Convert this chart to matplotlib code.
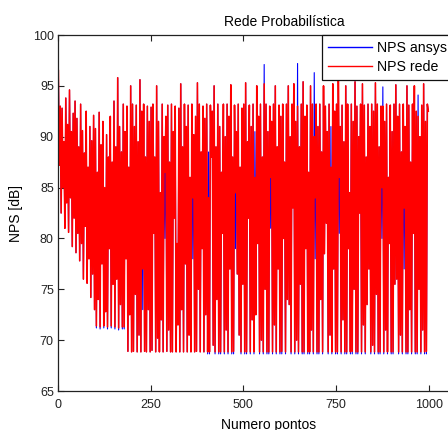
import numpy as np
import matplotlib
matplotlib.use('Agg')
import matplotlib.pyplot as plt

plt.rcParams['font.family'] = ['Liberation Sans', 'DejaVu Sans']

title = 'Rede Probabilística'
x_label = 'Numero pontos'
y_label = 'NPS [dB]'
series_names = ['NPS ansys', 'NPS rede']
x_ticks = [0, 250, 500, 750, 1000]
y_ticks = [65, 70, 75, 80, 85, 90, 95, 100]
sample_step = 2.5

nps_rede = [
    96.5, 87.2, 93.0, 82.5, 92.8, 85.0, 89.5, 81.0, 93.8, 83.5, 91.2, 80.6, 94.6, 84.0, 90.5, 79.2, 92.3, 82.0, 93.5, 78.6,
    91.8, 80.5, 89.0, 77.8, 93.2, 79.5, 90.6, 76.0, 88.4, 81.2, 92.5, 75.6, 87.0, 78.0, 91.0, 74.2, 89.6, 76.5, 92.1, 73.0,
    90.8, 71.4, 86.5, 74.0, 92.4, 71.3, 89.2, 77.5, 91.5, 71.4, 85.0, 72.8, 90.2, 71.3, 88.0, 79.0, 92.0, 71.4, 87.5, 75.5,
    93.5, 71.3, 89.0, 76.0, 95.8, 71.2, 91.0, 73.5, 88.5, 71.3, 93.2, 71.3, 90.5, 78.0, 93.0, 68.9, 87.0, 72.5, 95.0, 68.85,
    93.2, 68.9, 91.0, 74.5, 93.1, 68.85, 89.5, 70.5, 95.6, 68.85, 92.5, 77.0, 93.2, 68.9, 88.0, 68.85, 93.0, 73.0, 91.5, 68.85,
    92.9, 69.0, 93.2, 80.5, 88.0, 68.85, 95.0, 70.2, 91.5, 68.85, 84.5, 72.0, 93.2, 68.85, 90.0, 86.5, 92.0, 68.9, 93.1, 71.0,
    87.5, 68.85, 93.2, 68.85, 90.5, 82.0, 93.0, 68.85, 79.5, 71.5, 92.8, 68.85, 95.2, 73.0, 89.0, 68.85, 93.2, 77.5, 91.0, 68.85,
    93.1, 70.5, 86.0, 68.85, 93.2, 84.0, 90.2, 68.85, 92.0, 68.9, 95.3, 75.0, 93.2, 68.85, 88.5, 79.0, 93.0, 68.85, 91.8, 72.5,
    93.2, 68.85, 84.0, 68.85, 93.1, 88.0, 92.5, 69.5, 95.0, 68.85, 89.0, 74.0, 93.2, 68.85, 91.0, 68.85, 86.5, 80.5, 93.2, 68.85,
    90.0, 71.0, 93.2, 68.85, 92.0, 77.0, 95.1, 68.85, 88.0, 68.9, 93.1, 84.5, 90.5, 76.5, 93.2, 70.5, 87.0, 68.85, 92.8, 75.5,
    93.2, 68.85, 95.3, 68.85, 89.5, 82.0, 93.1, 68.85, 91.0, 72.0, 93.2, 68.85, 86.0, 72.5, 95.0, 79.5, 92.0, 68.85, 93.2, 70.0,
    88.0, 68.85, 95.2, 75.0, 93.2, 68.85, 90.5, 68.85, 93.0, 86.0, 91.5, 68.85, 93.2, 71.5, 95.0, 68.85, 89.0, 77.0, 93.1, 68.85,
    92.0, 68.9, 93.2, 80.0, 87.5, 68.85, 93.2, 74.0, 95.0, 73.5, 90.0, 68.85, 93.2, 83.0, 95.2, 68.85, 91.5, 70.0, 93.0, 68.85,
    89.0, 75.5, 93.2, 68.85, 95.4, 68.85, 92.0, 79.0, 93.1, 68.85, 86.5, 68.85, 95.0, 71.0, 93.2, 68.85, 90.0, 84.0, 93.2, 68.85,
    91.0, 68.85, 93.2, 74.0, 88.5, 68.85, 95.0, 78.5, 93.0, 81.5, 90.5, 68.85, 93.2, 70.5, 87.0, 68.85, 95.2, 77.0, 92.5, 68.85,
    93.2, 68.85, 95.5, 86.0, 91.0, 68.85, 93.1, 72.0, 89.5, 68.85, 95.0, 68.85, 93.2, 79.0, 84.5, 68.85, 93.2, 68.9, 91.5, 75.0,
    95.4, 68.85, 93.0, 68.85, 90.0, 82.5, 93.2, 68.85, 95.2, 71.5, 93.1, 68.85, 88.0, 73.5, 93.2, 77.0, 91.0, 68.85, 93.2, 69.5,
    92.5, 68.85, 95.3, 74.5, 93.2, 68.85, 89.0, 68.85, 93.0, 85.0, 93.0, 68.85, 91.5, 71.0, 93.2, 68.85, 86.0, 79.5, 93.1, 68.85,
    90.5, 68.85, 93.2, 75.5, 95.1, 76.0, 92.0, 68.85, 93.2, 70.5, 88.5, 68.85, 93.2, 83.0, 91.0, 68.85, 95.0, 68.85, 93.1, 73.0,
    87.5, 68.85, 93.2, 80.5, 95.0, 68.85, 92.5, 68.85, 92.0, 75.0, 90.0, 68.85, 93.1, 71.0, 95.2, 68.85, 91.5, 68.9, 93.2, 92.5,
]

nps_ansys = [
    96.5, 87.2, 93.0, 82.5, 92.8, 85.0, 89.5, 81.0, 93.8, 83.5, 91.2, 80.6, 94.6, 84.0, 90.5, 79.2, 92.3, 82.0, 93.5, 78.6,
    91.8, 80.5, 89.0, 77.8, 93.2, 79.5, 90.6, 76.0, 88.4, 81.2, 92.5, 75.6, 87.0, 78.0, 91.0, 74.2, 89.6, 76.5, 92.1, 73.0,
    90.8, 71.2, 86.5, 74.0, 92.4, 71.1, 89.2, 77.5, 91.5, 71.2, 82.0, 72.8, 90.2, 71.1, 88.0, 79.0, 92.0, 71.2, 87.5, 75.5,
    93.5, 71.1, 89.0, 76.0, 95.8, 71.0, 91.0, 73.5, 88.5, 71.1, 93.2, 71.1, 90.5, 78.0, 93.0, 68.9, 87.0, 72.5, 95.0, 68.85,
    93.2, 68.9, 91.0, 74.5, 93.1, 68.85, 89.5, 70.5, 95.6, 68.85, 92.5, 73.0, 93.2, 68.9, 88.0, 68.85, 93.0, 73.0, 91.5, 68.85,
    92.9, 69.0, 93.2, 80.5, 88.0, 68.85, 95.0, 70.2, 91.5, 68.85, 84.5, 72.0, 93.2, 68.85, 90.0, 80.0, 92.0, 68.9, 93.1, 71.0,
    87.5, 68.85, 93.2, 68.85, 90.5, 82.0, 93.0, 68.85, 79.5, 71.5, 92.8, 68.85, 95.2, 73.0, 89.0, 68.85, 93.2, 77.5, 91.0, 68.85,
    93.1, 70.5, 86.0, 68.85, 93.2, 78.0, 90.2, 68.85, 92.0, 68.9, 95.3, 75.0, 93.2, 68.85, 88.5, 79.0, 93.0, 68.85, 91.8, 72.5,
    93.2, 68.65, 88.5, 68.65, 93.1, 88.0, 92.5, 69.5, 95.0, 68.65, 89.0, 74.0, 93.2, 68.65, 91.0, 68.65, 86.5, 80.5, 93.2, 68.65,
    90.0, 71.0, 93.2, 68.65, 92.0, 77.0, 95.1, 68.65, 88.0, 68.65, 93.1, 79.0, 90.5, 76.5, 93.2, 70.5, 87.0, 68.65, 92.8, 75.5,
    93.2, 68.65, 95.3, 68.65, 89.5, 82.0, 93.1, 68.65, 91.0, 72.0, 93.2, 68.65, 90.5, 72.5, 95.0, 79.5, 92.0, 68.65, 93.2, 70.0,
    88.0, 68.65, 97.1, 75.0, 93.2, 68.65, 90.5, 68.65, 93.0, 81.0, 91.5, 68.65, 93.2, 71.5, 95.0, 68.65, 89.0, 77.0, 93.1, 68.65,
    92.0, 68.65, 93.2, 80.0, 87.5, 68.65, 93.2, 74.0, 95.0, 73.5, 90.0, 68.65, 93.2, 83.0, 95.2, 68.65, 91.5, 70.0, 97.2, 68.65,
    89.0, 75.5, 93.2, 68.65, 95.4, 68.65, 92.0, 79.0, 93.1, 68.65, 86.5, 68.65, 95.0, 71.0, 93.2, 68.65, 96.3, 78.0, 93.2, 68.65,
    91.0, 68.65, 93.2, 74.0, 88.5, 68.65, 95.0, 78.5, 93.0, 81.5, 90.5, 68.65, 93.2, 70.5, 91.0, 68.65, 95.2, 77.0, 92.5, 68.65,
    93.2, 68.65, 95.5, 80.5, 91.0, 68.65, 93.1, 72.0, 89.5, 68.65, 95.0, 68.65, 93.2, 79.0, 84.5, 68.65, 93.2, 68.65, 91.5, 75.0,
    95.4, 68.65, 93.0, 68.65, 90.0, 82.5, 93.2, 68.65, 95.2, 71.5, 93.1, 68.65, 88.0, 73.5, 93.2, 77.0, 91.0, 68.65, 93.2, 69.5,
    92.5, 68.65, 95.3, 74.5, 93.2, 68.65, 89.0, 68.65, 93.0, 80.0, 94.9, 68.65, 91.5, 71.0, 93.2, 68.65, 86.0, 79.5, 93.1, 68.65,
    90.5, 68.65, 93.2, 75.5, 95.1, 76.0, 92.0, 68.65, 93.2, 70.5, 88.5, 68.65, 93.2, 77.0, 91.0, 68.65, 95.0, 68.65, 93.1, 73.0,
    87.5, 68.65, 93.2, 80.5, 95.0, 68.65, 92.5, 68.65, 94.1, 75.0, 90.0, 68.65, 93.1, 71.0, 95.2, 68.65, 91.5, 68.65, 93.2, 92.5,
]

x = 1 + sample_step * np.arange(len(nps_rede))

W, H = 448, 430
fig = plt.figure(figsize=(W / 100, H / 100), dpi=100)
ax = fig.add_axes([58 / W, (H - 391) / H, 445 / W, 356 / H])

ax.plot(x, nps_ansys, color='#0000ff', lw=0.8, label=series_names[0])
ax.plot(x, nps_rede, color='#ff0000', lw=1.15, label=series_names[1])

ax.set_xlim(0, 1200)
ax.set_ylim(65, 100)
ax.set_xticks(x_ticks)
ax.set_yticks(y_ticks)
ax.tick_params(direction='in', length=4, width=0.8, top=True, right=True,
               labelsize=9, colors='#222222')
ax.tick_params(axis='x', pad=6)
ax.tick_params(axis='y', pad=3)
for s in ax.spines.values():
    s.set_linewidth(0.9)
    s.set_color('#222222')

ax.set_title(title, fontsize=10, pad=6.5, x=(284 - 58) / 445)
ax.set_xlabel(x_label, fontsize=10)
ax.xaxis.set_label_coords((268.5 - 58) / 445, -27 / 356)
ax.set_ylabel(y_label, fontsize=10)
ax.yaxis.set_label_coords((23 - 58) / 445, 0.5)

leg = ax.legend(loc='upper left', bbox_to_anchor=((322 - 58) / 445, 1.0),
                borderaxespad=0, fontsize=10.2, frameon=True, fancybox=False,
                framealpha=1, edgecolor='#111111', handlelength=3.1,
                handletextpad=0.35, borderpad=0.45, labelspacing=0.3)
leg.get_frame().set_linewidth(0.9)
for l in leg.get_lines():
    l.set_linewidth(1.0)

fig.savefig('out.png', dpi=100)
